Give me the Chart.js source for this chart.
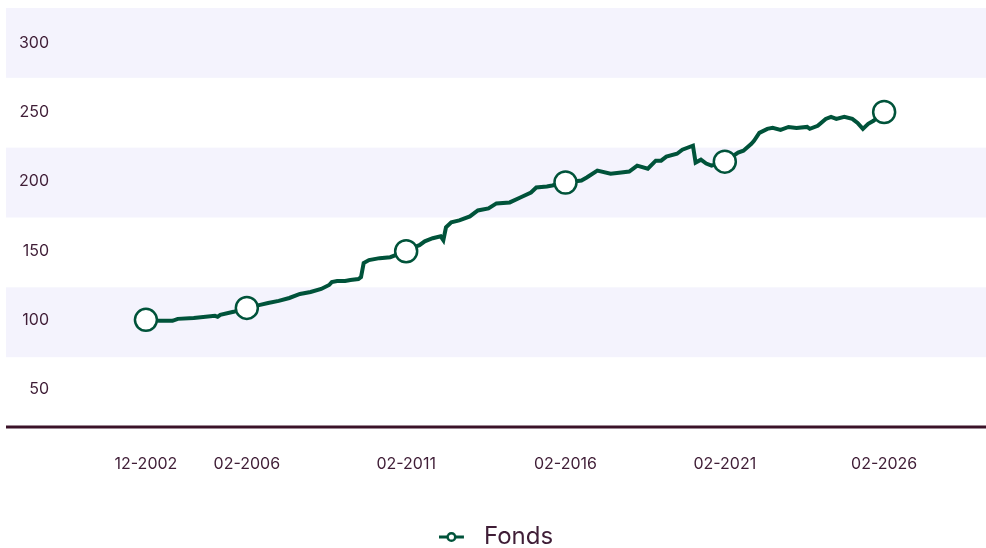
<!DOCTYPE html>
<html>
<head>
<meta charset="utf-8">
<script src="https://cdn.jsdelivr.net/npm/chart.js@4.4.1/dist/chart.umd.min.js"></script>
<style>
  html, body { margin: 0; padding: 0; background: #fff; overflow: hidden; }
  #wrap { width: 986px; height: 548px; }
</style>
</head>
<body>
<div id="wrap"><canvas id="fondsChart"></canvas></div>
<script>
// month of each reading (YYYY-MM) and the fund value
var dates = [
    '2002-12', '2003-05', '2003-10', '2003-12', '2004-06', '2005-02', '2005-03', '2005-04', '2005-09',
    '2006-02', '2006-07', '2006-10', '2007-02', '2007-06', '2007-10', '2008-02', '2008-06', '2008-09',
    '2008-10', '2008-12', '2009-03', '2009-05', '2009-08', '2009-09', '2009-10', '2009-12', '2010-04',
    '2010-08', '2010-11', '2011-02', '2011-04', '2011-07', '2011-09', '2011-12', '2012-03', '2012-04',
    '2012-05', '2012-07', '2012-10', '2013-02', '2013-05', '2013-09', '2013-12', '2014-05', '2014-09',
    '2015-01', '2015-03', '2015-07', '2015-09', '2016-02', '2016-08', '2016-10', '2017-02', '2017-07',
    '2017-11', '2018-02', '2018-05', '2018-09', '2018-12', '2019-02', '2019-04', '2019-08', '2019-10',
    '2020-02', '2020-03', '2020-05', '2020-07', '2020-09', '2021-02', '2021-07', '2021-09', '2021-12',
    '2022-01', '2022-03', '2022-06', '2022-08', '2022-11', '2023-02', '2023-05', '2023-09', '2023-10',
    '2024-01', '2024-04', '2024-06', '2024-08', '2024-11', '2025-02', '2025-04', '2025-06', '2025-08',
    '2025-10', '2026-02'
];
var values = [
    100.0, 99.3, 99.3, 100.7, 101.4, 102.9, 102.2, 103.6, 105.8,
    108.6, 110.8, 112.2, 113.7, 115.8, 118.7, 120.1, 122.3, 125.2,
    127.3, 128.1, 128.1, 128.8, 129.5, 130.9, 141.0, 143.2, 144.6,
    145.3, 147.5, 149.6, 151.8, 154.0, 156.8, 159.0, 160.4, 157.6,
    166.9, 170.5, 171.9, 174.8, 179.1, 180.6, 184.2, 184.9, 188.5,
    192.1, 195.7, 196.4, 197.1, 199.3, 200.7, 202.9, 207.9, 205.7,
    206.5, 207.2, 211.5, 209.3, 215.1, 215.1, 218.0, 220.1, 223.0,
    225.9, 213.7, 215.8, 213.0, 211.5, 214.4, 220.9, 222.3, 227.3,
    229.5, 235.2, 238.1, 238.8, 237.4, 239.5, 238.8, 239.5, 238.1,
    240.3, 245.3, 246.8, 245.3, 246.8, 245.3, 242.4, 238.1, 241.7,
    243.9, 250.3
];
var markerDates = ['2002-12', '2006-02', '2011-02', '2016-02', '2021-02', '2026-02'];
var markerLabels = ['12-2002', '02-2006', '02-2011', '02-2016', '02-2021', '02-2026'];
var yTicks = [50, 100, 150, 200, 250, 300];

var green = '#00533a';
var textColor = '#3f1d36';

function toYear(s) {
    var p = s.split('-');
    return +p[0] + (p[1] - 1) / 12;
}

// legend icon: short line with a hollow dot
var icon = document.createElement('canvas');
icon.width = 33;
icon.height = 14;
var ic = icon.getContext('2d');
ic.strokeStyle = green;
ic.lineWidth = 3;
ic.beginPath();
ic.moveTo(0, 7);
ic.lineTo(25, 7);
ic.stroke();
ic.beginPath();
ic.arc(12.5, 7, 3.8, 0, Math.PI * 2);
ic.fillStyle = '#fff';
ic.fill();
ic.lineWidth = 2.5;
ic.stroke();

// alternating bands (one per tick, split evenly over the plot) plus the bottom axis line
var bandsPlugin = {
    id: 'bands',
    beforeDraw: function (chart) {
        var ctx = chart.ctx;
        var area = chart.chartArea;
        var n = yTicks.length;
        var h = (area.bottom - area.top) / n;
        ctx.save();
        ctx.fillStyle = '#f4f3fd';
        for (var i = 0; i < n; i += 2) {
            ctx.fillRect(6, area.top + i * h, area.right - 6, h);
        }
        ctx.strokeStyle = '#3b1228';
        ctx.lineWidth = 3;
        ctx.beginPath();
        ctx.moveTo(6, area.bottom);
        ctx.lineTo(area.right, area.bottom);
        ctx.stroke();
        ctx.restore();
    }
};

var tickFont = { family: 'Inter', size: 16 };

var fondsChart = new Chart(document.getElementById('fondsChart').getContext('2d'), {
    type: 'line',
    data: {
        datasets: [{
            label: 'Fonds',
            data: dates.map(function (d, i) { return { x: toYear(d), y: values[i] }; }),
            borderColor: green,
            borderWidth: 4,
            tension: 0,
            pointRadius: function (c) {
                return markerDates.indexOf(dates[c.dataIndex]) >= 0 ? 11 : 0;
            },
            pointBackgroundColor: '#fff',
            pointBorderColor: green,
            pointBorderWidth: 2.5,
        }],
    },
    options: {
        responsive: true,
        maintainAspectRatio: false,
        animation: false,
        layout: {
            autoPadding: false,
            padding: { left: 6, top: 8, right: 0, bottom: -11 },
        },
        plugins: {
            tooltip: { enabled: false },
            legend: {
                position: 'bottom',
                labels: {
                    usePointStyle: true,
                    pointStyle: icon,
                    pointStyleWidth: 33,
                    boxHeight: 14,
                    padding: 10,
                    color: textColor,
                    font: { family: 'Inter', size: 24 },
                },
            },
        },
        scales: {
            x: {
                type: 'linear',
                min: 2000.22,
                max: 2029.28,
                grid: { display: false, drawTicks: false },
                border: { display: false },
                afterBuildTicks: function (s) {
                    s.ticks = markerDates.map(function (d) { return { value: toYear(d) }; });
                },
                afterFit: function (s) {
                    s.height = 88;
                    s.paddingLeft = 0;
                    s.paddingRight = 0;
                },
                ticks: {
                    autoSkip: false,
                    maxRotation: 0,
                    padding: 28,
                    color: textColor,
                    font: tickFont,
                    callback: function (v, i) { return markerLabels[i]; },
                },
            },
            y: {
                min: 22.5,
                max: 325.5,
                grid: { display: false, drawTicks: false },
                border: { display: false },
                afterBuildTicks: function (s) {
                    s.ticks = yTicks.map(function (v) { return { value: v }; });
                },
                afterFit: function (s) {
                    s.width = 54;
                    s.paddingTop = 0;
                    s.paddingBottom = 0;
                },
                ticks: {
                    autoSkip: false,
                    padding: 11,
                    color: textColor,
                    font: tickFont,
                },
            },
        },
    },
    plugins: [bandsPlugin],
});
</script>
</body>
</html>
